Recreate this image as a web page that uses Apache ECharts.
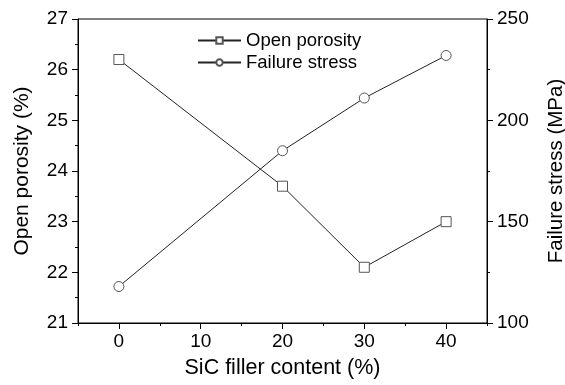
<!DOCTYPE html>
<html>
<head>
<meta charset="utf-8">
<script src="https://cdn.jsdelivr.net/npm/echarts@6/dist/echarts.min.js"></script>
<style>
  html, body { margin: 0; padding: 0; background: #fff; }
  #chart { width: 565px; height: 385px; }
</style>
</head>
<body>
<div id="chart"></div>
<script>
var fillerContent = [0, 20, 30, 40];
var openPorosity = [26.2, 23.7, 22.1, 23.0];
var failureStress = [118, 185, 211, 232];
var majorTicksX = [0, 10, 20, 30, 40];

function pairs(xs, ys) {
  var out = [];
  for (var i = 0; i < xs.length; i++) out.push([xs[i], ys[i]]);
  return out;
}

var chart = echarts.init(document.getElementById("chart"), null, { renderer: "canvas" });
var font = "Liberation Sans, Arial, sans-serif";
var black = "#000";

var option = {
  backgroundColor: "#ffffff",
  animation: false,
  textStyle: { fontFamily: font },
  grid: {
    left: 78, right: 78, top: 19, bottom: 62,
    outerBoundsMode: "none", containLabel: false,
    show: true, borderColor: black, borderWidth: 1, backgroundColor: "transparent"
  },
  legend: {
    orient: "vertical",
    left: 192, top: 25,
    itemWidth: 43, itemHeight: 8, itemGap: 1,
    textStyle: { fontFamily: font, fontSize: 18.5, color: black, lineHeight: 21 },
    data: ["Open porosity", "Failure stress"]
  },
  xAxis: [
    {
      type: "value", min: -5, max: 45, interval: 5,
      name: "SiC filler content (%)", nameLocation: "middle", nameGap: 34,
      nameTextStyle: { fontFamily: font, fontSize: 21.5, color: black },
      axisLine: { onZero: false, lineStyle: { color: black, width: 1 } },
      axisTick: { length: 3, lineStyle: { color: black } },
      axisLabel: {
        fontFamily: font, fontSize: 19, color: black, margin: 9,
        formatter: function (v) { return v % 10 === 0 ? String(v) : ""; }
      },
      splitLine: { show: false }
    },
    {
      type: "value", min: -5, max: 45, interval: 5, position: "bottom",
      axisLine: { show: false, onZero: false },
      axisTick: { show: true, length: 6, customValues: majorTicksX, lineStyle: { color: black } },
      axisLabel: { show: false },
      splitLine: { show: false }
    }
  ],
  yAxis: [
    {
      type: "value", min: 21, max: 27, interval: 1,
      name: "Open porosity (%)", nameLocation: "middle", nameGap: 45,
      nameTextStyle: { fontFamily: font, fontSize: 21, color: black },
      axisLine: { show: true, onZero: false, lineStyle: { color: black, width: 1 } },
      axisTick: { show: true, length: 6, lineStyle: { color: black } },
      minorTick: { show: true, splitNumber: 2, length: 3, lineStyle: { color: black } },
      axisLabel: { fontFamily: font, fontSize: 19, color: black, margin: 10 },
      splitLine: { show: false }
    },
    {
      type: "value", min: 100, max: 250, interval: 50, position: "right",
      name: "Failure stress (MPa)", nameLocation: "middle", nameGap: 59,
      nameTextStyle: { fontFamily: font, fontSize: 20.5, color: black },
      axisLine: { show: true, onZero: false, lineStyle: { color: black, width: 1 } },
      axisTick: { show: true, length: 6, lineStyle: { color: black } },
      minorTick: { show: true, splitNumber: 2, length: 3, lineStyle: { color: black } },
      axisLabel: { fontFamily: font, fontSize: 19, color: black, margin: 10 },
      splitLine: { show: false }
    }
  ],
  series: [
    {
      name: "Open porosity", type: "line",
      xAxisIndex: 0, yAxisIndex: 0,
      data: pairs(fillerContent, openPorosity),
      symbol: "rect", symbolSize: 10,
      lineStyle: { color: "#222", width: 1 },
      itemStyle: { color: "#fff", borderColor: "#555", borderWidth: 1 }
    },
    {
      name: "Failure stress", type: "line",
      xAxisIndex: 0, yAxisIndex: 1,
      data: pairs(fillerContent, failureStress),
      symbol: "circle", symbolSize: 10,
      lineStyle: { color: "#222", width: 1 },
      itemStyle: { color: "#fff", borderColor: "#555", borderWidth: 1 }
    }
  ]
};
chart.setOption(option);
</script>
</body>
</html>
